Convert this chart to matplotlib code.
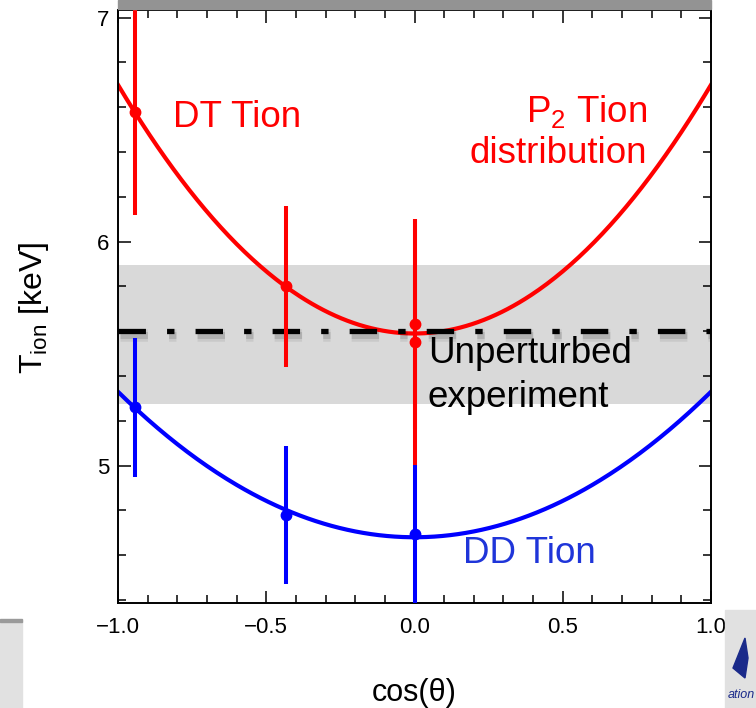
import numpy as np
import matplotlib
matplotlib.use("Agg")
import matplotlib.pyplot as plt
import matplotlib.patheffects as pe
from matplotlib.patches import Rectangle, Polygon
from matplotlib.ticker import MultipleLocator

plt.rcParams['font.family'] = ['Liberation Sans', 'DejaVu Sans']
plt.rcParams['mathtext.fontset'] = 'custom'
plt.rcParams['mathtext.rm'] = 'Liberation Sans'
plt.rcParams['mathtext.it'] = 'Liberation Sans:italic'

# ---- data ----
dt_cos = [-0.943, -0.434, 0.0, 0.0]
dt_T = [6.58, 5.80, 5.55, 5.633]
dt_err = [0.46, 0.36, 0.55, 0.47]

dd_cos = [-0.943, -0.434, 0.0]
dd_T = [5.26, 4.78, 4.694]
dd_err = [0.31, 0.31, 0.31]

# P2 fit coefficients: T = a + b * P2(cos)
dt_fit = [5.96, 0.74]
dd_fit = [4.897, 0.433]

unperturbed_T = 5.60
unperturbed_band = [5.275, 5.896]

xticks = [-1.0, -0.5, 0.0, 0.5, 1.0]
xticklabels = ['\u22121.0', '\u22120.5', '0.0', '0.5', '1.0']
yticks = [5, 6, 7]

RED = '#ff0000'
BLUE = '#0000ff'

fig = plt.figure(figsize=(7.56, 7.08), dpi=100)
ax = fig.add_axes([118/756, 1-603/708, 593/756, 593/708])

ax.set_xlim(-1.0, 1.0)
ax.set_ylim(4.387, 7.034)

ax.axhspan(unperturbed_band[0], unperturbed_band[1], color='#d9d9d9', lw=0, zorder=0)

c = np.linspace(-1, 1, 301)
p2 = 0.5 * (3 * c**2 - 1)
ax.plot(c, dt_fit[0] + dt_fit[1] * p2, color=RED, lw=3.0, zorder=2)
ax.plot(c, dd_fit[0] + dd_fit[1] * p2, color=BLUE, lw=3.0, zorder=2)

ax.axhline(unperturbed_T, color='black', lw=3.8, zorder=3,
           linestyle=(0, (5.2, 4.0, 1.4, 4.0)), dash_capstyle='butt',
           path_effects=[pe.SimpleLineShadow(offset=(1.5, -3), shadow_color='k', alpha=0.07, linewidth=9),
                         pe.SimpleLineShadow(offset=(1.5, -3), shadow_color='k', alpha=0.12, linewidth=5),
                         pe.Normal()])

ax.errorbar(dt_cos, dt_T, yerr=dt_err, fmt='o', color=RED, ms=7.5, elinewidth=2.9,
            capsize=0, zorder=4, clip_on=True)
ax.errorbar(dd_cos, dd_T, yerr=dd_err, fmt='o', color=BLUE, ms=7.5, elinewidth=2.9,
            capsize=0, zorder=4, clip_on=True)

# annotations
FS = 26.5
ax.text(-0.815, 6.512, 'DT Tion', color=RED, fontsize=FS, ha='left', va='baseline')
ax.text(0.784, 6.534, 'P$_2$ Tion', color=RED, fontsize=FS, ha='right', va='baseline')
ax.text(0.784, 6.351, 'distribution', color=RED, fontsize=FS, ha='right', va='baseline')
ax.text(0.0455, 5.459, 'Unperturbed', color='black', fontsize=FS, ha='left', va='baseline', zorder=5)
ax.text(0.0455, 5.264, 'experiment', color='black', fontsize=FS, ha='left', va='baseline', zorder=5)
ax.text(0.1636, 4.566, 'DD Tion', color='#1f35d9', fontsize=FS, ha='left', va='baseline')

# ticks
ax.set_xticks(xticks)
ax.set_xticklabels(xticklabels)
ax.set_yticks(yticks)
ax.xaxis.set_minor_locator(MultipleLocator(0.1))
ax.yaxis.set_minor_locator(MultipleLocator(0.2))
ax.tick_params(which='both', direction='in', top=True, right=True, width=1.1, labelsize=16)
ax.tick_params(which='major', length=9)
ax.tick_params(which='minor', length=5.5)
ax.tick_params(axis='x', which='major', pad=10)
ax.tick_params(axis='y', which='major', pad=6)
for s in ax.spines.values():
    s.set_linewidth(1.4)

ax.set_xlabel('cos(\u03b8)', fontsize=22)
ax.xaxis.set_label_coords(0.5, -0.127)
ax.set_ylabel('T$_{\\mathrm{ion}}$ [keV]', fontsize=23)
ax.yaxis.set_label_coords(-0.113, 0.497)

# slide decorations
fig.patches.append(Rectangle((118/756, 1-9/708), 593/756, 9/708, transform=fig.transFigure,
                             color='#939393', zorder=0))
fig.patches.append(Rectangle((0, 0), 22/756, 88/708, transform=fig.transFigure,
                             color='#e1e1e1', zorder=0))
fig.patches.append(Rectangle((0, 86/708), 22/756, 3/708, transform=fig.transFigure,
                             color='#9a9a9a', zorder=0))
fig.patches.append(Rectangle((725/756, 0), 31/756, 98/708, transform=fig.transFigure,
                             color='#e1e1e1', zorder=0))
fig.patches.append(Polygon([(733/756, 40/708), (745/756, 70/708), (748/756, 50/708), (745/756, 30/708)],
                           closed=True, transform=fig.transFigure, color='#1a2a8a', zorder=1))
fig.text(728/756, 10/708, 'ation', fontsize=9, style='italic', color='#1a2a8a')

fig.savefig('out.png', dpi=100)
